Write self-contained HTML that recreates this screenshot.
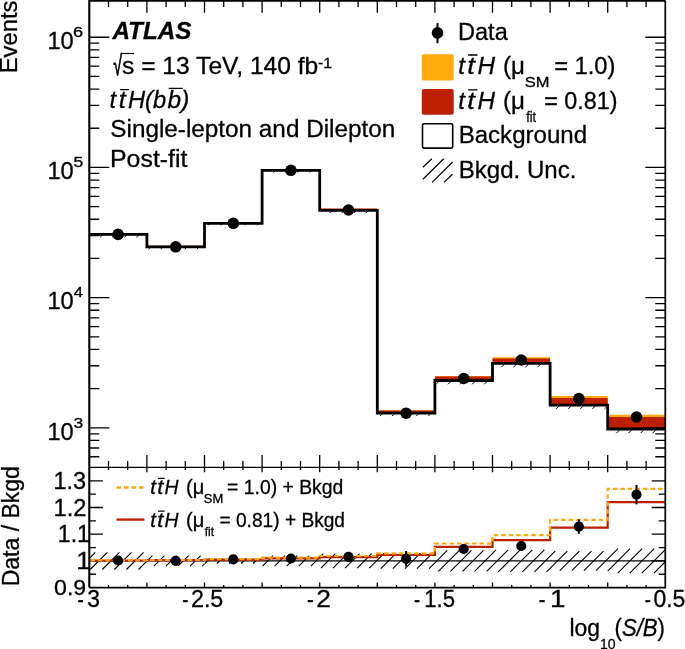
<!DOCTYPE html>
<html lang="en"><head><meta charset="utf-8"><title>ttH(bb) post-fit log10(S/B)</title>
<style>html,body{margin:0;padding:0;background:#fff;}svg{display:block;}text{font-family:"Liberation Sans",sans-serif;fill:#000;stroke:#000;stroke-width:0.3px;}.i{font-style:italic;}.bi{font-style:italic;font-weight:bold;}</style></head><body>
<svg width="685" height="649" viewBox="0 0 685 649">
<rect x="0" y="0" width="685" height="649" fill="#fff"/>
<defs>
<clipPath id="cm"><rect x="89.3" y="0.6" width="576.0" height="466.7"/></clipPath>
<clipPath id="cr"><rect x="89.3" y="467.3" width="576.0" height="120.30000000000001"/></clipPath>
</defs>
<g clip-path="url(#cm)">
<path d="M89.30,467.30 L89.30,233.00 L146.90,233.00 L146.90,245.80 L204.50,245.80 L204.50,222.20 L262.10,222.20 L262.10,169.00 L319.70,169.00 L319.70,208.75 L377.30,208.75 L377.30,410.20 L434.90,410.20 L434.90,376.00 L492.50,376.00 L492.50,357.20 L550.10,357.20 L550.10,396.10 L607.70,396.10 L607.70,414.70 L665.30,414.70 L665.30,467.30 Z" fill="#ffa90e"/>
<path d="M89.30,467.30 L89.30,233.00 L146.90,233.00 L146.90,245.75 L204.50,245.75 L204.50,222.10 L262.10,222.10 L262.10,168.90 L319.70,168.90 L319.70,208.60 L377.30,208.60 L377.30,410.40 L434.90,410.40 L434.90,376.50 L492.50,376.50 L492.50,358.50 L550.10,358.50 L550.10,398.10 L607.70,398.10 L607.70,417.00 L665.30,417.00 L665.30,467.30 Z" fill="#bd1f01"/>
<path d="M89.30,467.30 L89.30,234.30 L146.90,234.30 L146.90,246.90 L204.50,246.90 L204.50,223.40 L262.10,223.40 L262.10,170.30 L319.70,170.30 L319.70,210.30 L377.30,210.30 L377.30,413.10 L434.90,413.10 L434.90,380.50 L492.50,380.50 L492.50,363.30 L550.10,363.30 L550.10,405.10 L607.70,405.10 L607.70,429.00 L665.30,429.00 L665.30,467.30 Z" fill="#fff"/>
<path d="M90.70,234.64 L91.04,234.30 M100.21,237.20 L103.11,234.30 M112.28,237.20 L115.18,234.30 M124.35,237.20 L127.25,234.30 M136.42,237.20 L139.32,234.30 M148.56,249.20 L150.86,246.90 M160.63,249.20 L162.93,246.90 M172.71,249.20 L175.01,246.90 M184.78,249.20 L187.08,246.90 M196.85,249.20 L199.15,246.90 M208.68,225.30 L210.58,223.40 M220.75,225.30 L222.65,223.40 M232.82,225.30 L234.72,223.40 M244.89,225.30 L246.79,223.40 M256.96,225.30 L258.86,223.40 M273.45,172.60 L275.75,170.30 M285.52,172.60 L287.82,170.30 M297.59,172.60 L299.89,170.30 M309.66,172.60 L311.96,170.30 M329.62,213.00 L332.32,210.30 M341.69,213.00 L344.39,210.30 M353.76,213.00 L356.46,210.30 M365.83,213.00 L368.53,210.30 M380.01,416.10 L383.01,413.10 M392.08,416.10 L395.08,413.10 M404.15,416.10 L407.15,413.10 M416.22,416.10 L419.22,413.10 M428.29,416.10 L431.29,413.10 M436.30,383.95 L439.75,380.50 M448.02,384.30 L451.82,380.50 M460.09,384.30 L463.89,380.50 M472.16,384.30 L475.96,380.50 M484.23,384.30 L488.03,380.50 M501.33,367.20 L505.23,363.30 M513.40,367.20 L517.30,363.30 M525.47,367.20 L529.38,363.30 M537.55,367.20 L541.45,363.30 M556.20,408.90 L560.00,405.10 M568.27,408.90 L572.07,405.10 M580.34,408.90 L584.14,405.10 M592.41,408.90 L596.21,405.10 M604.48,408.90 L606.30,407.09 M616.30,433.30 L620.60,429.00 M628.37,433.30 L632.67,429.00 M640.44,433.30 L644.74,429.00 M652.51,433.30 L656.81,429.00 " stroke="#000" stroke-width="1" fill="none"/>
<path d="M89.30,234.30 L89.30,234.30 L146.90,234.30 L146.90,246.90 L204.50,246.90 L204.50,223.40 L262.10,223.40 L262.10,170.30 L319.70,170.30 L319.70,210.30 L377.30,210.30 L377.30,413.10 L434.90,413.10 L434.90,380.50 L492.50,380.50 L492.50,363.30 L550.10,363.30 L550.10,405.10 L607.70,405.10 L607.70,429.00 L665.30,429.00 " fill="none" stroke="#000" stroke-width="2.8" stroke-linejoin="miter"/>
</g>
<path d="M89.30,456.73 h10.0 M665.30,456.73 h-10.0 M89.30,448.02 h10.0 M665.30,448.02 h-10.0 M89.30,440.47 h10.0 M665.30,440.47 h-10.0 M89.30,433.81 h10.0 M665.30,433.81 h-10.0 M89.30,427.85 h20.0 M665.30,427.85 h-20.0 M89.30,388.66 h10.0 M665.30,388.66 h-10.0 M89.30,365.73 h10.0 M665.30,365.73 h-10.0 M89.30,349.46 h10.0 M665.30,349.46 h-10.0 M89.30,336.84 h10.0 M665.30,336.84 h-10.0 M89.30,326.53 h10.0 M665.30,326.53 h-10.0 M89.30,317.82 h10.0 M665.30,317.82 h-10.0 M89.30,310.27 h10.0 M665.30,310.27 h-10.0 M89.30,303.61 h10.0 M665.30,303.61 h-10.0 M89.30,297.65 h20.0 M665.30,297.65 h-20.0 M89.30,258.46 h10.0 M665.30,258.46 h-10.0 M89.30,235.53 h10.0 M665.30,235.53 h-10.0 M89.30,219.26 h10.0 M665.30,219.26 h-10.0 M89.30,206.64 h10.0 M665.30,206.64 h-10.0 M89.30,196.33 h10.0 M665.30,196.33 h-10.0 M89.30,187.62 h10.0 M665.30,187.62 h-10.0 M89.30,180.07 h10.0 M665.30,180.07 h-10.0 M89.30,173.41 h10.0 M665.30,173.41 h-10.0 M89.30,167.45 h20.0 M665.30,167.45 h-20.0 M89.30,128.26 h10.0 M665.30,128.26 h-10.0 M89.30,105.33 h10.0 M665.30,105.33 h-10.0 M89.30,89.06 h10.0 M665.30,89.06 h-10.0 M89.30,76.44 h10.0 M665.30,76.44 h-10.0 M89.30,66.13 h10.0 M665.30,66.13 h-10.0 M89.30,57.42 h10.0 M665.30,57.42 h-10.0 M89.30,49.87 h10.0 M665.30,49.87 h-10.0 M89.30,43.21 h10.0 M665.30,43.21 h-10.0 M89.30,37.25 h20.0 M665.30,37.25 h-20.0 M108.50,467.30 v-6.4 M108.50,0.60 v6.4 M108.50,467.30 v2.6 M108.50,587.60 v-2.6 M127.70,467.30 v-6.4 M127.70,0.60 v6.4 M127.70,467.30 v2.6 M127.70,587.60 v-2.6 M146.90,467.30 v-12.2 M146.90,0.60 v12.2 M146.90,467.30 v5.0 M146.90,587.60 v-5.0 M166.10,467.30 v-6.4 M166.10,0.60 v6.4 M166.10,467.30 v2.6 M166.10,587.60 v-2.6 M185.30,467.30 v-6.4 M185.30,0.60 v6.4 M185.30,467.30 v2.6 M185.30,587.60 v-2.6 M204.50,467.30 v-12.2 M204.50,0.60 v12.2 M204.50,467.30 v5.0 M204.50,587.60 v-5.0 M223.70,467.30 v-6.4 M223.70,0.60 v6.4 M223.70,467.30 v2.6 M223.70,587.60 v-2.6 M242.90,467.30 v-6.4 M242.90,0.60 v6.4 M242.90,467.30 v2.6 M242.90,587.60 v-2.6 M262.10,467.30 v-12.2 M262.10,0.60 v12.2 M262.10,467.30 v5.0 M262.10,587.60 v-5.0 M281.30,467.30 v-6.4 M281.30,0.60 v6.4 M281.30,467.30 v2.6 M281.30,587.60 v-2.6 M300.50,467.30 v-6.4 M300.50,0.60 v6.4 M300.50,467.30 v2.6 M300.50,587.60 v-2.6 M319.70,467.30 v-12.2 M319.70,0.60 v12.2 M319.70,467.30 v5.0 M319.70,587.60 v-5.0 M338.90,467.30 v-6.4 M338.90,0.60 v6.4 M338.90,467.30 v2.6 M338.90,587.60 v-2.6 M358.10,467.30 v-6.4 M358.10,0.60 v6.4 M358.10,467.30 v2.6 M358.10,587.60 v-2.6 M377.30,467.30 v-12.2 M377.30,0.60 v12.2 M377.30,467.30 v5.0 M377.30,587.60 v-5.0 M396.50,467.30 v-6.4 M396.50,0.60 v6.4 M396.50,467.30 v2.6 M396.50,587.60 v-2.6 M415.70,467.30 v-6.4 M415.70,0.60 v6.4 M415.70,467.30 v2.6 M415.70,587.60 v-2.6 M434.90,467.30 v-12.2 M434.90,0.60 v12.2 M434.90,467.30 v5.0 M434.90,587.60 v-5.0 M454.10,467.30 v-6.4 M454.10,0.60 v6.4 M454.10,467.30 v2.6 M454.10,587.60 v-2.6 M473.30,467.30 v-6.4 M473.30,0.60 v6.4 M473.30,467.30 v2.6 M473.30,587.60 v-2.6 M492.50,467.30 v-12.2 M492.50,0.60 v12.2 M492.50,467.30 v5.0 M492.50,587.60 v-5.0 M511.70,467.30 v-6.4 M511.70,0.60 v6.4 M511.70,467.30 v2.6 M511.70,587.60 v-2.6 M530.90,467.30 v-6.4 M530.90,0.60 v6.4 M530.90,467.30 v2.6 M530.90,587.60 v-2.6 M550.10,467.30 v-12.2 M550.10,0.60 v12.2 M550.10,467.30 v5.0 M550.10,587.60 v-5.0 M569.30,467.30 v-6.4 M569.30,0.60 v6.4 M569.30,467.30 v2.6 M569.30,587.60 v-2.6 M588.50,467.30 v-6.4 M588.50,0.60 v6.4 M588.50,467.30 v2.6 M588.50,587.60 v-2.6 M607.70,467.30 v-12.2 M607.70,0.60 v12.2 M607.70,467.30 v5.0 M607.70,587.60 v-5.0 M626.90,467.30 v-6.4 M626.90,0.60 v6.4 M626.90,467.30 v2.6 M626.90,587.60 v-2.6 M646.10,467.30 v-6.4 M646.10,0.60 v6.4 M646.10,467.30 v2.6 M646.10,587.60 v-2.6 M89.30,574.25 h6.6 M665.30,574.25 h-6.6 M89.30,560.90 h13.6 M665.30,560.90 h-13.6 M89.30,547.55 h6.6 M665.30,547.55 h-6.6 M89.30,534.20 h13.6 M665.30,534.20 h-13.6 M89.30,520.85 h6.6 M665.30,520.85 h-6.6 M89.30,507.50 h13.6 M665.30,507.50 h-13.6 M89.30,494.15 h6.6 M665.30,494.15 h-6.6 M89.30,480.80 h13.6 M665.30,480.80 h-13.6 " stroke="#000" stroke-width="1.3" fill="none"/>
<g clip-path="url(#cr)">
<path d="M89.30,558.33 L95.33,552.30 M90.20,569.50 L107.40,552.30 M102.27,569.50 L119.47,552.30 M114.34,569.50 L131.54,552.30 M126.41,569.50 L143.61,552.30 M138.48,569.50 L146.90,561.08 M146.90,561.08 L152.38,555.60 M153.86,566.20 L164.46,555.60 M165.93,566.20 L176.53,555.60 M178.00,566.20 L188.60,555.60 M190.07,566.20 L200.67,555.60 M202.14,566.20 L204.50,563.84 M204.84,563.50 L210.04,558.30 M216.91,563.50 L222.11,558.30 M228.98,563.50 L234.18,558.30 M241.05,563.50 L246.25,558.30 M253.12,563.50 L258.32,558.30 M262.59,566.10 L272.99,555.70 M274.67,566.10 L285.07,555.70 M286.74,566.10 L297.14,555.70 M298.81,566.10 L309.21,555.70 M310.88,566.10 L319.70,557.28 M319.70,557.28 L323.28,553.70 M320.95,568.10 L335.35,553.70 M333.02,568.10 L347.42,553.70 M345.09,568.10 L359.49,553.70 M357.16,568.10 L371.56,553.70 M369.23,568.10 L377.30,560.03 M377.30,560.03 L384.13,553.20 M380.80,568.60 L396.20,553.20 M392.88,568.60 L408.28,553.20 M404.95,568.60 L420.35,553.20 M417.02,568.60 L432.42,553.20 M429.09,568.60 L434.90,562.79 M434.90,550.72 L435.22,550.40 M434.90,562.79 L447.29,550.40 M438.36,571.40 L459.36,550.40 M450.43,571.40 L471.43,550.40 M462.50,571.40 L483.50,550.40 M474.57,571.40 L492.50,553.47 M486.64,571.40 L492.50,565.54 M492.50,553.47 L496.07,549.90 M492.50,565.54 L508.14,549.90 M498.21,571.90 L520.21,549.90 M510.28,571.90 L532.28,549.90 M522.36,571.90 L544.36,549.90 M534.43,571.90 L550.10,556.23 M546.50,571.90 L550.10,568.30 M550.10,556.23 L555.23,551.10 M550.10,568.30 L567.30,551.10 M559.77,570.70 L579.37,551.10 M571.84,570.70 L591.44,551.10 M583.91,570.70 L603.51,551.10 M595.98,570.70 L607.70,558.98 M607.70,558.98 L617.98,548.70 M607.70,571.05 L630.05,548.70 M617.72,573.10 L642.12,548.70 M629.79,573.10 L654.20,548.70 M641.87,573.10 L665.30,549.67 M653.94,573.10 L665.30,561.74 " stroke="#000" stroke-width="1.1" fill="none"/>
<line x1="89.3" y1="560.90" x2="665.3" y2="560.90" stroke="#000" stroke-width="1.1"/>
<path d="M89.30,560.50 L89.30,560.50 L146.90,560.50 L146.90,560.20 L204.50,560.20 L204.50,559.60 L262.10,559.60 L262.10,558.40 L319.70,558.40 L319.70,557.20 L377.30,557.20 L377.30,555.00 L434.90,555.00 L434.90,546.80 L492.50,546.80 L492.50,540.20 L550.10,540.20 L550.10,527.60 L607.70,527.60 L607.70,502.20 L665.30,502.20 " fill="none" stroke="#bd1f01" stroke-width="2.2"/>
<path d="M89.30,560.40 L89.30,560.40 L146.90,560.40 L146.90,560.00 L204.50,560.00 L204.50,559.20 L262.10,559.20 L262.10,557.70 L319.70,557.70 L319.70,556.00 L377.30,556.00 L377.30,553.30 L434.90,553.30 L434.90,543.50 L492.50,543.50 L492.50,535.10 L550.10,535.10 L550.10,519.80 L607.70,519.80 L607.70,488.80 L665.30,488.80 " fill="none" stroke="#ffa90e" stroke-width="2.2" stroke-dasharray="4.5 3.02" stroke-dashoffset="-1.1"/>
</g>
<path d="M89.3,587.6 V0.6 H665.3" fill="none" stroke="#000" stroke-width="2.1" stroke-linejoin="miter"/>
<path d="M665.3,0.6 V587.6 H89.3" fill="none" stroke="#000" stroke-width="1.7" stroke-linejoin="miter"/>
<line x1="89.3" y1="467.3" x2="665.3" y2="467.3" stroke="#000" stroke-width="1.3"/>
<circle cx="118.10" cy="234.40" r="5.8" fill="#000"/>
<circle cx="175.70" cy="246.80" r="5.8" fill="#000"/>
<circle cx="233.30" cy="223.40" r="5.8" fill="#000"/>
<circle cx="290.90" cy="170.30" r="5.8" fill="#000"/>
<circle cx="348.50" cy="210.00" r="5.8" fill="#000"/>
<circle cx="406.10" cy="413.20" r="5.8" fill="#000"/>
<circle cx="463.70" cy="378.50" r="5.8" fill="#000"/>
<circle cx="521.30" cy="360.00" r="5.8" fill="#000"/>
<circle cx="578.90" cy="398.60" r="5.8" fill="#000"/>
<circle cx="636.50" cy="417.00" r="5.8" fill="#000"/>
<circle cx="118.10" cy="560.50" r="5.1" fill="#000"/>
<circle cx="175.70" cy="560.80" r="5.1" fill="#000"/>
<circle cx="233.30" cy="559.40" r="5.1" fill="#000"/>
<circle cx="290.90" cy="558.50" r="5.1" fill="#000"/>
<circle cx="348.50" cy="556.90" r="5.1" fill="#000"/>
<line x1="406.10" y1="551.00" x2="406.10" y2="566.60" stroke="#000" stroke-width="2"/>
<circle cx="406.10" cy="558.80" r="5.1" fill="#000"/>
<line x1="463.70" y1="544.00" x2="463.70" y2="554.00" stroke="#000" stroke-width="2"/>
<circle cx="463.70" cy="549.00" r="5.1" fill="#000"/>
<line x1="521.30" y1="541.00" x2="521.30" y2="551.00" stroke="#000" stroke-width="2"/>
<circle cx="521.30" cy="546.00" r="5.1" fill="#000"/>
<line x1="578.90" y1="519.40" x2="578.90" y2="533.80" stroke="#000" stroke-width="2"/>
<circle cx="578.90" cy="526.60" r="5.1" fill="#000"/>
<line x1="636.50" y1="484.90" x2="636.50" y2="504.30" stroke="#000" stroke-width="2"/>
<circle cx="636.50" cy="494.60" r="5.1" fill="#000"/>
<text transform="translate(112.39,39.40) scale(0.9894,1.0000)" font-size="24.5" class="bi">ATLAS</text>
<text transform="translate(113.28,75.02) scale(0.6462,1.1291)" font-size="24.5" style="stroke-width:0.8px">√</text>
<text transform="translate(122.00,73.80) scale(1.0046,1.0000)" font-size="24.5">s = 13 TeV, 140 fb</text>
<text transform="translate(317.99,67.80) scale(1.0200,1.0000)" font-size="15.5">-1</text>
<text transform="translate(109.52,108.20) scale(0.9778,1.0000)" font-size="24.5" class="i">t</text>
<text transform="translate(118.66,108.20) scale(1.0370,1.0000)" font-size="24.5" class="i">t</text>
<text transform="translate(127.92,108.20) scale(0.9688,1.0000)" font-size="24.5" class="i">H(b</text>
<text transform="translate(167.55,108.20) scale(0.9975,1.0000)" font-size="24.5" class="i">b)</text>
<text transform="translate(110.31,137.30) scale(0.9919,1.0000)" font-size="24.5">Single-lepton and Dilepton</text>
<text transform="translate(110.02,166.70) scale(1.0161,1.0000)" font-size="24.5">Post-fit</text>
<text transform="translate(458.02,39.60) scale(0.9612,1.0000)" font-size="24.5">Data</text>
<text transform="translate(458.22,73.60) scale(0.9778,1.0000)" font-size="24.5" class="i">t</text>
<text transform="translate(467.29,73.60) scale(1.1111,1.0000)" font-size="24.5" class="i">t</text>
<text transform="translate(477.40,73.60) scale(0.9913,1.0000)" font-size="24.5" class="i">H</text>
<text transform="translate(503.07,73.60) scale(0.9846,1.0000)" font-size="24.5">(μ</text>
<text transform="translate(524.85,87.00) scale(1.1000,1.0000)" font-size="15">SM</text>
<text transform="translate(554.13,73.60) scale(0.9689,1.0000)" font-size="24.5">= 1.0)</text>
<text transform="translate(458.22,108.50) scale(0.9778,1.0000)" font-size="24.5" class="i">t</text>
<text transform="translate(467.29,108.50) scale(1.1111,1.0000)" font-size="24.5" class="i">t</text>
<text transform="translate(477.40,108.50) scale(0.9913,1.0000)" font-size="24.5" class="i">H</text>
<text transform="translate(503.07,108.50) scale(0.9846,1.0000)" font-size="24.5">(μ</text>
<text transform="translate(526.20,121.50) scale(0.8511,1.0000)" font-size="15">fit</text>
<text transform="translate(544.15,108.50) scale(0.9530,1.0000)" font-size="24.5">= 0.81)</text>
<text transform="translate(458.68,143.20) scale(0.9820,1.0000)" font-size="24.5">Background</text>
<text transform="translate(458.68,177.50) scale(0.9836,1.0000)" font-size="24.5">Bkgd. Unc.</text>
<text transform="translate(150.24,493.70) scale(1.0087,1.0000)" font-size="20.3" class="i">t</text>
<text transform="translate(157.29,493.70) scale(1.0783,1.0000)" font-size="20.3" class="i">t</text>
<text transform="translate(164.62,493.70) scale(0.9544,1.0000)" font-size="20.3" class="i">H</text>
<text transform="translate(186.01,493.70) scale(0.9875,1.0000)" font-size="20.3">(μ</text>
<text transform="translate(203.79,502.60) scale(1.0286,1.0000)" font-size="12.6">SM</text>
<text transform="translate(227.08,493.70) scale(0.9537,1.0000)" font-size="20.3">= 1.0) + Bkgd</text>
<text transform="translate(150.24,526.60) scale(1.0087,1.0000)" font-size="20.3" class="i">t</text>
<text transform="translate(157.29,526.60) scale(1.0783,1.0000)" font-size="20.3" class="i">t</text>
<text transform="translate(164.62,526.60) scale(0.9544,1.0000)" font-size="20.3" class="i">H</text>
<text transform="translate(186.01,526.60) scale(0.9875,1.0000)" font-size="20.3">(μ</text>
<text transform="translate(204.70,536.00) scale(0.9436,1.0000)" font-size="12.6">fit</text>
<text transform="translate(219.49,526.60) scale(0.9427,1.0000)" font-size="20.3">= 0.81) + Bkgd</text>
<text transform="translate(47.43,439.65) scale(0.9649,1.0000)" font-size="24.5">10</text>
<text transform="translate(73.43,427.65) scale(1.1333,1.0000)" font-size="15.5">3</text>
<text transform="translate(47.43,309.45) scale(0.9649,1.0000)" font-size="24.5">10</text>
<text transform="translate(73.73,297.45) scale(1.0625,1.0000)" font-size="15.5">4</text>
<text transform="translate(47.43,179.25) scale(0.9649,1.0000)" font-size="24.5">10</text>
<text transform="translate(73.43,167.25) scale(1.1333,1.0000)" font-size="15.5">5</text>
<text transform="translate(47.43,49.05) scale(0.9649,1.0000)" font-size="24.5">10</text>
<text transform="translate(73.12,37.05) scale(1.1724,1.0000)" font-size="15.5">6</text>
<text transform="translate(53.45,488.80) scale(1.0241,1.0000)" font-size="23">1.3</text>
<text transform="translate(53.43,515.50) scale(1.0330,1.0000)" font-size="23">1.2</text>
<text transform="translate(57.79,542.20) scale(1.0059,1.0000)" font-size="23">1.1</text>
<text transform="translate(76.13,568.90) scale(1.1333,1.0000)" font-size="23">1</text>
<text transform="translate(54.05,595.20) scale(1.0050,1.0000)" font-size="23">0.9</text>
<text transform="translate(77.50,606.90) scale(0.8000,1.0000)" font-size="23.5">-</text>
<text transform="translate(87.27,606.90) scale(0.9739,1.0000)" font-size="23.5">3</text>
<text transform="translate(182.22,606.90) scale(0.7833,1.0000)" font-size="23.5">-</text>
<text transform="translate(190.96,606.90) scale(0.9902,1.0000)" font-size="23.5">2.5</text>
<text transform="translate(307.03,606.90) scale(0.8667,1.0000)" font-size="23.5">-</text>
<text transform="translate(316.20,606.90) scale(1.1238,1.0000)" font-size="23.5">2</text>
<text transform="translate(414.02,606.90) scale(0.7833,1.0000)" font-size="23.5">-</text>
<text transform="translate(424.21,606.90) scale(0.9445,1.0000)" font-size="23.5">1.5</text>
<text transform="translate(538.83,606.90) scale(0.8667,1.0000)" font-size="23.5">-</text>
<text transform="translate(549.93,606.90) scale(1.1840,1.0000)" font-size="23.5">1</text>
<text transform="translate(644.82,606.90) scale(0.7833,1.0000)" font-size="23.5">-</text>
<text transform="translate(653.47,606.90) scale(0.9774,1.0000)" font-size="23.5">0.5</text>
<text transform="translate(17.40,73.32) rotate(-90) scale(0.9616,1)" font-size="24.8">Events</text>
<text transform="translate(19.00,586.36) rotate(-90) scale(0.9509,1)" font-size="24.2">Data / Bkgd</text>
<text transform="translate(569.46,635.60) scale(0.9573,1.0000)" font-size="24">log</text>
<text transform="translate(600.03,649.30) scale(0.9333,1.0000)" font-size="15">10</text>
<text transform="translate(614.55,635.60) scale(0.9231,1.0000)" font-size="24">(<tspan class="i">S/B</tspan>)</text>
<path d="M121.6,53.5 H134.0" stroke="#000" stroke-width="1.2" fill="none"/>
<path d="M120.1,89.6 H128.9 M168.7,88.4 H182.8" stroke="#000" stroke-width="1.4" fill="none"/>
<path d="M468.1,55.0 H477.5 M468.1,89.9 H477.5" stroke="#000" stroke-width="1.4" fill="none"/>
<path d="M158.0,478.3 H164.7 M158.0,511.2 H164.7" stroke="#000" stroke-width="1.3" fill="none"/>
<line x1="437.5" y1="23.1" x2="437.5" y2="43.2" stroke="#000" stroke-width="2"/>
<circle cx="437.5" cy="32.9" r="5.8" fill="#000"/>
<rect x="421.8" y="54.3" width="31.9" height="26.2" rx="2" fill="#ffa90e"/>
<rect x="421.8" y="89.1" width="31.9" height="25.6" rx="2" fill="#bd1f01"/>
<rect x="422.5" y="123.7" width="30.2" height="24.4" rx="1.5" fill="#fff" stroke="#000" stroke-width="1.6"/>
<path d="M422.9,167.3 L431.8,158.7 M422.9,179.2 L443.7,158.7 M432.1,182.4 L452.6,162.0 M443.9,182.4 L452.6,174.2" stroke="#000" stroke-width="1.2" fill="none"/>
<line x1="116.5" y1="487.5" x2="144.5" y2="487.5" stroke="#ffa90e" stroke-width="2.3" stroke-dasharray="4.5 3.0"/>
<line x1="116.5" y1="519.6" x2="144.5" y2="519.6" stroke="#bd1f01" stroke-width="2.3"/>
</svg></body></html>
